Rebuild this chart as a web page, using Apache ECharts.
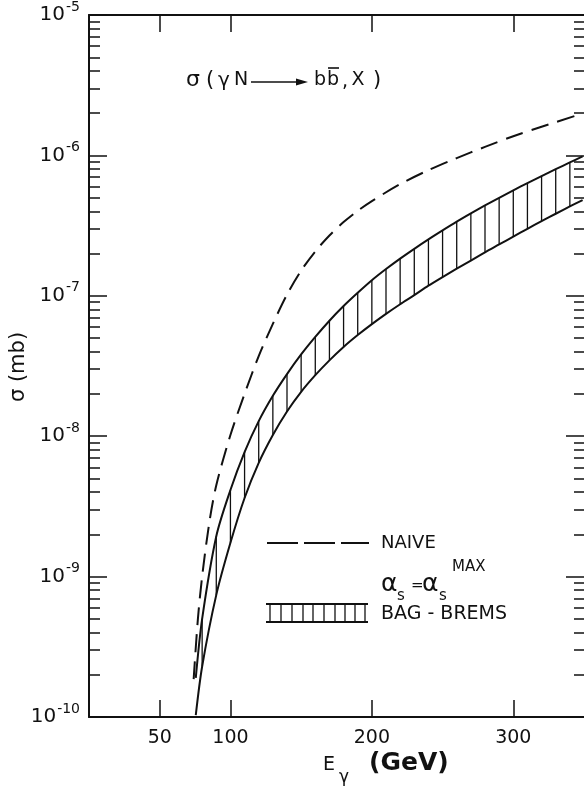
<!DOCTYPE html>
<html>
<head>
<meta charset="utf-8">
<script src="https://cdn.jsdelivr.net/npm/echarts@6/dist/echarts.min.js"></script>
<style>
  html, body { margin: 0; padding: 0; background: #fff; }
  #chart { width: 584px; height: 787px; }
</style>
</head>
<body>
<div id="chart"></div>
<script>
// E_gamma (GeV) and sigma (mb)
const naiveE = [74, 77, 80, 85, 90, 100, 110, 120, 130, 140, 150, 160, 170, 180, 190, 200, 220, 240,
  260, 280, 300, 320, 349];
const naiveSigma = [1.86e-10, 5.0e-10, 1.0e-9, 2.4e-9, 4.47e-9, 1.02e-8, 2.0e-8, 3.72e-8, 6.31e-8,
  1.02e-7, 1.51e-7, 2.07e-7, 2.69e-7, 3.35e-7, 4.03e-7, 4.73e-7, 6.24e-7, 7.85e-7, 9.57e-7, 1.15e-6,
  1.37e-6, 1.6e-6, 1.99e-6];

// bag-brems band, upper and lower edge
const bandE = [75.5, 80, 90, 100, 110, 120, 130, 140, 150, 160, 170, 180, 190, 200, 210, 220, 230, 240,
  250, 260, 270, 280, 290, 300, 310, 320, 330, 340, 349];
const bandUpper = [1.9e-10, 5.0e-10, 1.94e-9, 4.14e-9, 7.71e-9, 1.28e-8, 1.94e-8, 2.77e-8, 3.82e-8,
  5.09e-8, 6.64e-8, 8.45e-8, 1.05e-7, 1.29e-7, 1.55e-7, 1.84e-7, 2.16e-7, 2.52e-7, 2.92e-7, 3.37e-7,
  3.86e-7, 4.4e-7, 4.99e-7, 5.64e-7, 6.35e-7, 7.13e-7, 7.98e-7, 8.91e-7, 9.84e-7];
const bandLower = [1.03e-10, 2.29e-10, 7.41e-10, 1.74e-9, 3.63e-9, 6.46e-9, 1.02e-8, 1.5e-8, 2.07e-8,
  2.72e-8, 3.47e-8, 4.32e-8, 5.25e-8, 6.28e-8, 7.43e-8, 8.71e-8, 1.01e-7, 1.18e-7, 1.36e-7, 1.56e-7,
  1.78e-7, 2.04e-7, 2.32e-7, 2.64e-7, 3.0e-7, 3.4e-7, 3.84e-7, 4.33e-7, 4.81e-7];

const xTicks = [50, 100, 200, 300];
const yDecades = [1e-10, 1e-9, 1e-8, 1e-7, 1e-6, 1e-5];

const ink = '#111';
const font = '"DejaVu Sans", "Liberation Sans", sans-serif';

// minor ticks 2..9 in each decade
const yMinor = [];
yDecades.slice(0, -1).forEach(d => {
  for (let k = 2; k <= 9; k++) yMinor.push(k * d);
});

const naiveData = naiveE.map((e, i) => [e, naiveSigma[i]]);
const upperData = bandE.map((e, i) => [e, bandUpper[i]]);
const lowerData = bandE.map((e, i) => [e, bandLower[i]]);
const hatchData = bandE
  .map((e, i) => [e, bandUpper[i], bandLower[i]])
  .filter(d => d[0] % 10 === 0);

function logAxis(pos, ticks, len, labels) {
  return {
    type: 'log',
    position: pos,
    min: 1e-10,
    max: 1e-5,
    splitLine: { show: false },
    axisLine: { show: labels, lineStyle: { color: ink, width: 2 } },
    axisTick: { inside: true, length: len, customValues: ticks, lineStyle: { color: ink, width: 1.5 } },
    axisLabel: labels ? {
      customValues: yDecades,
      margin: 9,
      color: ink,
      formatter: v => '{a|10}{b|' + Math.round(Math.log10(v)) + '}',
      rich: {
        a: { fontSize: 20, fontFamily: font, color: ink },
        b: { fontSize: 14, fontFamily: font, color: ink, padding: [0, 0, 16, 1] }
      }
    } : { show: false }
  };
}

function txt(x, y, text, size, extra) {
  return Object.assign({
    type: 'text', x: x, y: y,
    style: { text: text, font: size + 'px ' + font, fill: ink, align: 'center', verticalAlign: 'middle' }
  }, extra || {});
}

function leftTxt(x, y, text, size) {
  return {
    type: 'text', x: x, y: y,
    style: { text: text, font: size + 'px ' + font, fill: ink, verticalAlign: 'middle' }
  };
}

const chart = echarts.init(document.getElementById('chart'));

chart.setOption({
  animation: false,
  grid: { left: 89, top: 15, width: 497, height: 702 },
  xAxis: [
    {
      type: 'value',
      position: 'bottom',
      min: 0,
      max: 350,
      splitLine: { show: false },
      axisLine: { lineStyle: { color: ink, width: 2 } },
      axisTick: { inside: true, length: 17, customValues: xTicks, lineStyle: { color: ink, width: 1.5 } },
      axisLabel: { customValues: xTicks, margin: 12, fontSize: 19, fontFamily: font, color: ink }
    },
    {
      type: 'value',
      position: 'top',
      min: 0,
      max: 350,
      splitLine: { show: false },
      axisLine: { lineStyle: { color: ink, width: 2 } },
      axisTick: { inside: true, length: 17, customValues: xTicks, lineStyle: { color: ink, width: 1.5 } },
      axisLabel: { show: false }
    }
  ],
  yAxis: [
    logAxis('left', yDecades, 18, true),
    logAxis('left', yMinor, 11, false),
    logAxis('right', yDecades, 18, false),
    logAxis('right', yMinor, 10, false)
  ],
  series: [
    {
      type: 'line',
      data: naiveData,
      smooth: 0.3,
      symbol: 'none',
      lineStyle: { color: ink, width: 2, type: [18, 9] }
    },
    {
      type: 'line',
      data: upperData,
      smooth: 0.3,
      symbol: 'none',
      lineStyle: { color: ink, width: 2 }
    },
    {
      type: 'line',
      data: lowerData,
      smooth: 0.3,
      symbol: 'none',
      lineStyle: { color: ink, width: 2 }
    },
    {
      type: 'custom',
      data: hatchData,
      encode: { x: 0, y: [1, 2] },
      renderItem: (params, api) => {
        const top = api.coord([api.value(0), api.value(1)]);
        const bot = api.coord([api.value(0), api.value(2)]);
        return {
          type: 'line',
          shape: { x1: top[0], y1: top[1], x2: bot[0], y2: bot[1] },
          style: { stroke: ink, lineWidth: 1.3 }
        };
      }
    }
  ],
  graphic: [
    // title: sigma(gamma N -> b bbar, X)
    txt(193, 80, 'σ', 22),
    txt(210, 81, '(', 21),
    txt(224, 81, 'γ', 20),
    txt(241, 80, 'N', 19),
    { type: 'line', shape: { x1: 251, y1: 82, x2: 300, y2: 82 }, style: { stroke: ink, lineWidth: 1.6 } },
    { type: 'polygon', shape: { points: [[296, 78.5], [308, 82], [296, 85.5]] }, style: { fill: ink } },
    txt(320, 80, 'b', 19),
    txt(333, 80, 'b', 19),
    { type: 'line', shape: { x1: 328, y1: 68, x2: 339, y2: 68 }, style: { stroke: ink, lineWidth: 1.6 } },
    txt(345, 82, ',', 19),
    txt(358, 80, 'X', 19),
    txt(377, 81, ')', 21),

    // legend
    { type: 'line', shape: { x1: 267, y1: 543, x2: 369, y2: 543 }, style: { stroke: ink, lineWidth: 1.8, lineDash: [31, 6] } },
    leftTxt(381, 543, 'NAIVE', 18),
    leftTxt(381, 584, 'α', 25),
    leftTxt(397, 596, 's', 15),
    leftTxt(411, 586, '=', 15),
    leftTxt(422, 584, 'α', 25),
    leftTxt(439, 596, 's', 15),
    leftTxt(452, 567, 'MAX', 15),
    { type: 'line', shape: { x1: 266, y1: 604, x2: 368, y2: 604 }, style: { stroke: ink, lineWidth: 2 } },
    { type: 'line', shape: { x1: 266, y1: 622, x2: 368, y2: 622 }, style: { stroke: ink, lineWidth: 2 } },
    ...[270, 281, 292, 303, 313, 324, 335, 345, 355, 365].map(x => ({
      type: 'line', shape: { x1: x, y1: 604, x2: x, y2: 622 }, style: { stroke: ink, lineWidth: 1.3 }
    })),
    leftTxt(381, 614, 'BAG - BREMS', 19),

    // axis names
    leftTxt(323, 765, 'E', 19),
    leftTxt(339, 778, 'γ', 17),
    { type: 'text', x: 369, y: 763, style: { text: '(GeV)', font: 'bold 25px ' + font, fill: ink, verticalAlign: 'middle' } },
    txt(19, 367, 'σ (mb)', 21, { rotation: Math.PI / 2 })
  ]
});
</script>
</body>
</html>
